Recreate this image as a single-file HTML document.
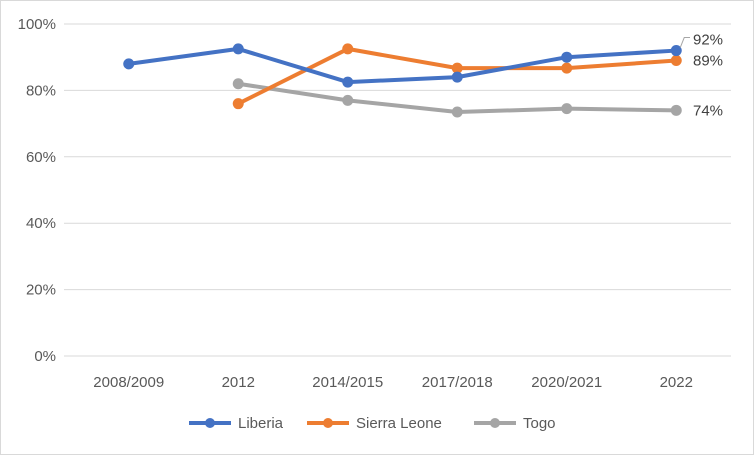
<!DOCTYPE html>
<html><head><meta charset="utf-8"><style>
body{margin:0;background:#fff}
svg{display:block;font-family:"Liberation Sans",sans-serif}
</style></head><body>
<svg id="c" width="754" height="455" viewBox="0 0 754 455">
<rect x="0.5" y="0.5" width="753" height="454" fill="#fff" stroke="#d9d9d9"/>
<g id="grid"></g><g id="xl"></g><g id="series"></g>
<g font-size="15" fill="#595959">
 <g><line x1="189" y1="423" x2="231" y2="423" stroke="#4472c4" stroke-width="4"/><circle cx="210" cy="423" r="5" fill="#4472c4"/><text x="238" y="428">Liberia</text></g>
 <g><line x1="307" y1="423" x2="349" y2="423" stroke="#ed7d31" stroke-width="4"/><circle cx="328" cy="423" r="5" fill="#ed7d31"/><text x="356" y="428">Sierra Leone</text></g>
 <g><line x1="474" y1="423" x2="516" y2="423" stroke="#a5a5a5" stroke-width="4"/><circle cx="495" cy="423" r="5" fill="#a5a5a5"/><text x="523" y="428">Togo</text></g>
</g>
</svg>
<script>
const categories=["2008/2009","2012","2014/2015","2017/2018","2020/2021","2022"];
const liberia=[88,92.5,82.5,84,90,92];
const sierraLeone=[null,76,92.5,86.7,86.7,89];
const togo=[null,82,77,73.5,74.5,74];
const yTicks=[0,20,40,60,80,100];
const NS="http://www.w3.org/2000/svg";
const L=74,R=731,T=24,B=356;
const x=i=>L+(R-L)/categories.length*(i+0.5);
const y=v=>B-(B-T)*v/100;
function mk(t,a,p){const e=document.createElementNS(NS,t);for(const k in a)e.setAttribute(k,a[k]);p.appendChild(e);return e;}
const g=document.getElementById('grid');
yTicks.forEach(v=>{
 const l=mk('line',{x1:L-10,x2:R,y1:y(v),y2:y(v),stroke:'#d9d9d9','stroke-width':1},g);
 
 
 const t=mk('text',{x:56,y:y(v)+5,'text-anchor':'end','font-size':15,fill:'#595959'},g);
 t.textContent=v+'%';
 
 
});
const xl=document.getElementById('xl');
categories.forEach((c,i)=>{
 const t=mk('text',{x:x(i),y:387,'text-anchor':'middle','font-size':15,fill:'#595959'},xl);
 t.textContent=c;
 
 
});
const sg=document.getElementById('series');
[[togo,'#a5a5a5','togo'],[sierraLeone,'#ed7d31','sierra-leone'],[liberia,'#4472c4','liberia']].forEach(([d,col,n])=>{
 const grp=mk('g',{},sg);
 
 
 const pts=[];d.forEach((v,i)=>{if(v!=null)pts.push([x(i),y(v)]);});
 const p=mk('polyline',{points:pts.map(q=>q.join(',')).join(' '),fill:'none',stroke:col,'stroke-width':4,'stroke-linejoin':'round'},grp);
 
 
 pts.forEach((q,i)=>{const c=mk('circle',{cx:q[0],cy:q[1],r:5.5,fill:col},grp);
  
  });
 const last=d[d.length-1];
 let ly=y(last)+5; if(n==='liberia')ly=y(last)-6;
 const t=mk('text',{x:693,y:ly,'font-size':15,fill:'#404040'},grp);
 t.textContent=Math.round(last)+'%';
 
 
 if(n==='liberia'){const ll=mk('polyline',{points:(x(5)+4)+','+(y(last)-3)+' '+(x(5)+8)+','+(y(last)-13)+' 690,'+(y(last)-13),fill:'none',stroke:'#a6a6a6'},grp);
  
  }
});
</script>
</body></html>
